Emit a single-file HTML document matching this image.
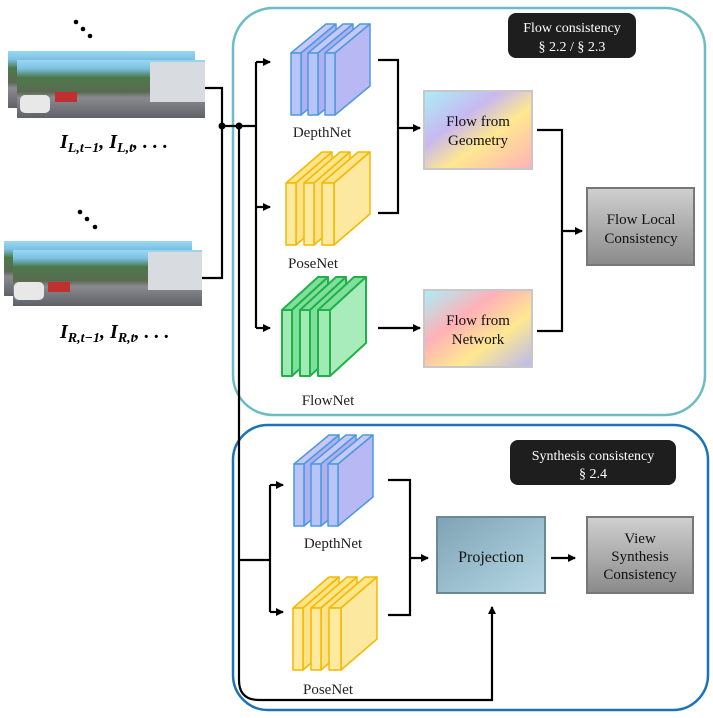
<!DOCTYPE html>
<html><head><meta charset="utf-8"><style>body{margin:0;background:#fff}svg{display:block}</style></head><body>
<svg width="713" height="718" viewBox="0 0 713 718" xmlns="http://www.w3.org/2000/svg" font-family="Liberation Serif, serif">
<defs>
<marker id="a" markerWidth="8" markerHeight="8" refX="7" refY="4" orient="auto" markerUnits="userSpaceOnUse"><path d="M0,0 L8,4 L0,8 z" fill="#000"/></marker>
<linearGradient id="fg" x1="0" y1="0" x2="1" y2="1"><stop offset="0" stop-color="#a8f0f8"/><stop offset="0.35" stop-color="#c8b8f0"/><stop offset="0.6" stop-color="#ffe890"/><stop offset="1" stop-color="#ffb0b8"/></linearGradient>
<linearGradient id="fn" x1="0" y1="0" x2="1" y2="1"><stop offset="0" stop-color="#a8f0f8"/><stop offset="0.35" stop-color="#ffb0b8"/><stop offset="0.65" stop-color="#ffe890"/><stop offset="1" stop-color="#b8b8f0"/></linearGradient>
<linearGradient id="gr" x1="0" y1="0" x2="0" y2="1"><stop offset="0" stop-color="#d0d0d0"/><stop offset="1" stop-color="#8a8a8a"/></linearGradient>
<linearGradient id="pj" x1="0" y1="0" x2="1" y2="1"><stop offset="0" stop-color="#7fa3b4"/><stop offset="1" stop-color="#b6d8e6"/></linearGradient>
<linearGradient id="img" x1="0" y1="0" x2="0" y2="1"><stop offset="0" stop-color="#9ad8f4"/><stop offset="0.15" stop-color="#7cc0e0"/><stop offset="0.3" stop-color="#4c7a4a"/><stop offset="0.55" stop-color="#5a6a50"/><stop offset="0.65" stop-color="#8a8a90"/><stop offset="1" stop-color="#606068"/></linearGradient>
</defs>
<rect x="233" y="8" width="472" height="407" rx="40" fill="none" stroke="#6bbcc4" stroke-width="2.5"/>
<rect x="233" y="425" width="475" height="285" rx="35" fill="none" stroke="#1a73b8" stroke-width="2.5"/>
<rect x="508" y="13" width="128" height="45" rx="8" fill="#1e1e1e"/>
<text x="572" y="32" font-size="14" fill="#fff" text-anchor="middle">Flow consistency</text>
<text x="572" y="51" font-size="14" fill="#fff" text-anchor="middle">§ 2.2 / § 2.3</text>
<rect x="510" y="440" width="166" height="45" rx="8" fill="#1e1e1e"/>
<text x="593" y="460" font-size="14" fill="#fff" text-anchor="middle">Synthesis consistency</text>
<text x="593" y="478" font-size="14" fill="#fff" text-anchor="middle">§ 2.4</text>
<g fill="#000"><circle cx="76" cy="22" r="2.3"/><circle cx="83" cy="29" r="2.3"/><circle cx="90" cy="36" r="2.3"/>
<circle cx="80" cy="212" r="2.3"/><circle cx="87" cy="219" r="2.3"/><circle cx="95" cy="227" r="2.3"/></g>
<rect x="8" y="51" width="187" height="57" fill="url(#img)"/>
<rect x="17" y="60" width="188" height="58" fill="url(#img)"/>
<rect x="150" y="62" width="55" height="40" fill="#d8dce0"/>
<rect x="20" y="95" width="30" height="18" rx="5" fill="#e8e8e8"/><rect x="55" y="92" width="22" height="10" fill="#c03030"/>
<rect x="4" y="241" width="188" height="55" fill="url(#img)"/>
<rect x="13" y="250" width="189" height="56" fill="url(#img)"/>
<rect x="148" y="252" width="54" height="38" fill="#d8dce0"/>
<rect x="14" y="282" width="30" height="18" rx="5" fill="#e8e8e8"/><rect x="48" y="282" width="22" height="10" fill="#c03030"/>
<text x="60" y="148" font-size="20" font-weight="bold" font-style="italic">I<tspan font-size="14" dy="4">L,t−1</tspan><tspan dy="-4">, I</tspan><tspan font-size="14" dy="4">L,t</tspan><tspan dy="-4">, . . .</tspan></text>
<text x="60" y="338" font-size="20" font-weight="bold" font-style="italic">I<tspan font-size="14" dy="4">R,t−1</tspan><tspan dy="-4">, I</tspan><tspan font-size="14" dy="4">R,t</tspan><tspan dy="-4">, . . .</tspan></text>
<g fill="none" stroke="#000" stroke-width="2.2">
<path d="M205,88 H222 V278 H202"/>
<path d="M222,126 H256"/>
<path d="M256,62 V328"/>
<path d="M256,62 H270" marker-end="url(#a)"/>
<path d="M256,207 H270" marker-end="url(#a)"/>
<path d="M256,328 H270" marker-end="url(#a)"/>
<path d="M239,126 V680 Q239,700 259,700 H492 V607" marker-end="url(#a)"/>
<path d="M378,60 H398 V213 H378"/>
<path d="M398,128 H420" marker-end="url(#a)"/>
<path d="M378,328 H420" marker-end="url(#a)"/>
<path d="M537,130 H562 V331 H537"/>
<path d="M562,231 H582" marker-end="url(#a)"/>
<path d="M239,560 H270"/>
<path d="M270,485 V612"/>
<path d="M270,485 H283" marker-end="url(#a)"/>
<path d="M270,612 H283" marker-end="url(#a)"/>
<path d="M388,480 H410 V615 H388"/>
<path d="M410,558 H428" marker-end="url(#a)"/>
<path d="M551,558 H575" marker-end="url(#a)"/>
</g>
<circle cx="222" cy="126" r="3.5"/><circle cx="239" cy="126" r="3.5"/>
<g stroke="#4a9ae0" stroke-width="1.5" stroke-linejoin="round">
<g transform="translate(291,53)"><path d="M0,0 L35,-29 H45 L10,0 Z" fill="#c8c8f8"/><path d="M10,0 L45,-29 V33 L10,62 Z" fill="#b0b0f0"/><rect width="10" height="62" fill="#b8c4f8"/></g>
<g transform="translate(308,53)"><path d="M0,0 L35,-29 H45 L10,0 Z" fill="#c8c8f8"/><path d="M10,0 L45,-29 V33 L10,62 Z" fill="#b0b0f0"/><rect width="10" height="62" fill="#b8c4f8"/></g>
<g transform="translate(325,53)"><path d="M0,0 L35,-29 H45 L10,0 Z" fill="#c8c8f8"/><path d="M10,0 L45,-29 V33 L10,62 Z" fill="#b8b8f4"/><rect width="10" height="62" fill="#b8c4f8"/></g>
</g>
<g stroke="#f5b800" stroke-width="1.5" stroke-linejoin="round">
<g transform="translate(286,183)"><path d="M0,0 L36,-31 H46 L10,0 Z" fill="#fde58a"/><path d="M10,0 L46,-31 V31 L10,62 Z" fill="#fde28a"/><rect width="10" height="62" fill="#fdeaa0"/></g>
<g transform="translate(304,183)"><path d="M0,0 L36,-31 H46 L10,0 Z" fill="#fde58a"/><path d="M10,0 L46,-31 V31 L10,62 Z" fill="#fde28a"/><rect width="10" height="62" fill="#fdeaa0"/></g>
<g transform="translate(322,183)"><path d="M0,0 L36,-31 H48 L12,0 Z" fill="#fde58a"/><path d="M12,0 L48,-31 V31 L12,62 Z" fill="#fde8a0"/><rect width="12" height="62" fill="#fdeaa0"/></g>
</g>
<g stroke="#22b04a" stroke-width="2" stroke-linejoin="round">
<g transform="translate(282,310)"><path d="M0,0 L36,-33 H46 L10,0 Z" fill="#7ee09a"/><path d="M10,0 L46,-33 V33 L10,66 Z" fill="#7ee09a"/><rect width="10" height="66" fill="#a0eab4"/></g>
<g transform="translate(300,310)"><path d="M0,0 L36,-33 H46 L10,0 Z" fill="#7ee09a"/><path d="M10,0 L46,-33 V33 L10,66 Z" fill="#7ee09a"/><rect width="10" height="66" fill="#a0eab4"/></g>
<g transform="translate(318,310)"><path d="M0,0 L36,-33 H48 L12,0 Z" fill="#7ee09a"/><path d="M12,0 L48,-33 V33 L12,66 Z" fill="#a8ecbc"/><rect width="12" height="66" fill="#a0eab4"/></g>
</g>
<g stroke="#4a9ae0" stroke-width="1.5" stroke-linejoin="round">
<g transform="translate(294,464)"><path d="M0,0 L35,-29 H45 L10,0 Z" fill="#c8c8f8"/><path d="M10,0 L45,-29 V33 L10,62 Z" fill="#b0b0f0"/><rect width="10" height="62" fill="#b8c4f8"/></g>
<g transform="translate(311,464)"><path d="M0,0 L35,-29 H45 L10,0 Z" fill="#c8c8f8"/><path d="M10,0 L45,-29 V33 L10,62 Z" fill="#b0b0f0"/><rect width="10" height="62" fill="#b8c4f8"/></g>
<g transform="translate(328,464)"><path d="M0,0 L35,-29 H45 L10,0 Z" fill="#c8c8f8"/><path d="M10,0 L45,-29 V33 L10,62 Z" fill="#b8b8f4"/><rect width="10" height="62" fill="#b8c4f8"/></g>
</g>
<g stroke="#f5b800" stroke-width="1.5" stroke-linejoin="round">
<g transform="translate(293,608)"><path d="M0,0 L36,-31 H46 L10,0 Z" fill="#fde58a"/><path d="M10,0 L46,-31 V31 L10,62 Z" fill="#fde28a"/><rect width="10" height="62" fill="#fdeaa0"/></g>
<g transform="translate(311,608)"><path d="M0,0 L36,-31 H46 L10,0 Z" fill="#fde58a"/><path d="M10,0 L46,-31 V31 L10,62 Z" fill="#fde28a"/><rect width="10" height="62" fill="#fdeaa0"/></g>
<g transform="translate(329,608)"><path d="M0,0 L36,-31 H48 L12,0 Z" fill="#fde58a"/><path d="M12,0 L48,-31 V31 L12,62 Z" fill="#fde8a0"/><rect width="12" height="62" fill="#fdeaa0"/></g>
</g>
<g font-size="15" text-anchor="middle" fill="#222">
<text x="322" y="137">DepthNet</text>
<text x="313" y="268">PoseNet</text>
<text x="328" y="405">FlowNet</text>
<text x="333" y="548">DepthNet</text>
<text x="328" y="694">PoseNet</text>
</g>
<rect x="424" y="91" width="108" height="78" fill="url(#fg)" stroke="#c8c8c8" stroke-width="2"/>
<rect x="424" y="290" width="108" height="77" fill="url(#fn)" stroke="#c8c8c8" stroke-width="2"/>
<rect x="587" y="188" width="107" height="77" fill="url(#gr)" stroke="#777" stroke-width="2"/>
<rect x="437" y="517" width="108" height="76" fill="url(#pj)" stroke="#6a8896" stroke-width="2"/>
<rect x="587" y="517" width="106" height="76" fill="url(#gr)" stroke="#777" stroke-width="2"/>
<g font-size="15" text-anchor="middle" fill="#111">
<text x="478" y="126">Flow from</text><text x="478" y="145">Geometry</text>
<text x="478" y="325">Flow from</text><text x="478" y="344">Network</text>
<text x="641" y="224">Flow Local</text><text x="641" y="243">Consistency</text>
<text x="491" y="562" font-size="16">Projection</text>
<text x="640" y="543">View</text><text x="640" y="561">Synthesis</text><text x="640" y="579">Consistency</text>
</g>
</svg>
</body></html>
